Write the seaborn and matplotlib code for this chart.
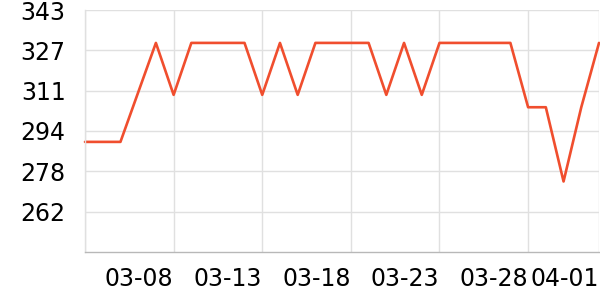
import matplotlib
matplotlib.use("Agg")
import matplotlib.pyplot as plt
import seaborn as sns
import pandas as pd

dates = ["03-03", "03-04", "03-05", "03-06", "03-07", "03-08", "03-09", "03-10",
         "03-11", "03-12", "03-13", "03-14", "03-15", "03-16", "03-17", "03-18",
         "03-19", "03-20", "03-21", "03-22", "03-23", "03-24", "03-25", "03-26",
         "03-27", "03-28", "03-29", "03-30", "03-31", "04-01"]
values = [290, 290, 290, 310, 330, 309, 330, 330,
          330, 330, 309, 330, 309, 330, 330, 330,
          330, 309, 330, 309, 330, 330, 330, 330,
          330, 304, 304, 274, 304, 330]
x_tick_labels = ["", "03-08", "03-13", "03-18", "03-23", "03-28", "04-01"]
x_tick_dates = ["03-03", "03-08", "03-13", "03-18", "03-23", "03-28", "04-01"]
y_ticks = [261.8, 278.1, 294.4, 310.7, 327.0, 343.3]
y_tick_labels = ["262", "278", "294", "311", "327", "343"]

df = pd.DataFrame({"idx": list(range(len(dates))), "value": values})

sns.set_theme(style="white")
plt.rcParams["font.family"] = ["DejaVu Sans"]

fig = plt.figure(figsize=(6, 3), dpi=100)
ax = fig.add_axes([85 / 600, 1 - 252 / 300, 514 / 600, 242 / 300])

sns.lineplot(data=df, x="idx", y="value", ax=ax, color="#F04E2E",
             linewidth=1.9, clip_on=False)

ax.set_xlim(0, len(dates) - 1)
ax.set_ylim(245.5, 343.3)

xpos = [dates.index(d) for d in x_tick_dates]
ax.set_xticks(xpos)
ax.set_xticklabels(x_tick_labels, ha="right", fontsize=17, color="black")
ax.set_yticks(y_ticks)
ax.set_yticklabels(y_tick_labels, fontsize=17, color="black")

ax.grid(True, color="#e0e0e0", linewidth=1.0)
ax.set_axisbelow(True)
for s in ["top", "right"]:
    ax.spines[s].set_visible(False)
ax.spines["left"].set_color("#e0e0e0")
ax.spines["left"].set_linewidth(1.0)
ax.spines["bottom"].set_color("#b8b8b8")
ax.spines["bottom"].set_linewidth(1.0)

ax.tick_params(axis="x", length=3, width=1, color="#b8b8b8", pad=8, labelcolor="black")
ax.tick_params(axis="y", length=2, width=1, color="#e0e0e0", pad=12, labelcolor="black")
ax.set_xlabel("")
ax.set_ylabel("")

fig.savefig("out.png", dpi=100)
